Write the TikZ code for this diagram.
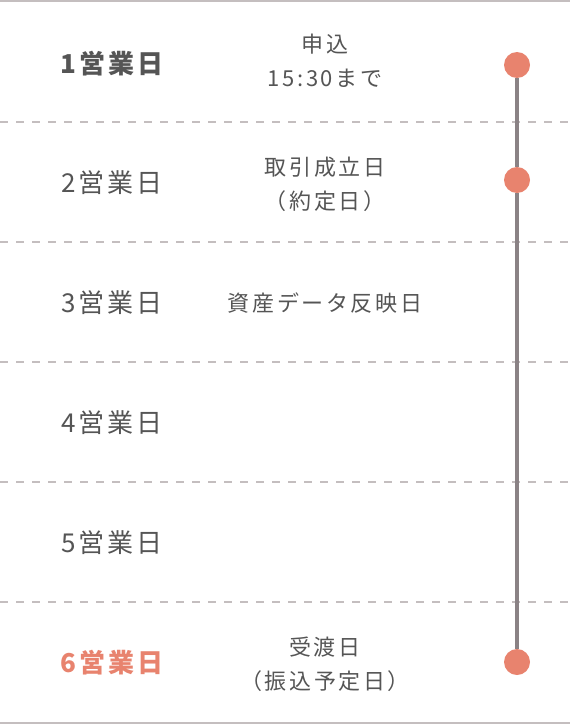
\documentclass[tikz,border=0pt]{standalone}
\usepackage{fontspec}
\newfontfamily\jpfont[LetterSpace=12]{Noto Sans CJK JP}
\definecolor{salmon}{HTML}{E8836E}
\definecolor{railgray}{HTML}{8A8285}
\definecolor{rulegray}{HTML}{C4BEBF}
\definecolor{textgray}{HTML}{555555}
\begin{document}
\begin{tikzpicture}[x=0.75pt, y=-0.75pt,
    daylabel/.style={text=textgray, font=\jpfont\fontsize{19.5}{22}\selectfont},
    event/.style={text=textgray, align=center, font=\jpfont\fontsize{16.5}{25.5}\selectfont},
    dot/.style={circle, fill=salmon, minimum size=19.5pt, inner sep=0pt},
    rail/.style={railgray, line width=3pt}]
    \useasboundingbox (0,0) rectangle (570,724);

    % Row borders
    \draw[rulegray, line width=1.5pt] (0,1) -- (570,1);
    \foreach \y in {122,242,362,482,602}
      \draw[rulegray, line width=1.2pt, dash pattern=on 6pt off 6pt] (0,\y) -- (570,\y);
    \draw[rulegray, line width=1.5pt] (0,722.5) -- (570,722.5);

    % Business days
    \node[daylabel, font=\jpfont\bfseries\fontsize{19.5}{22}\selectfont] (day1) at (112,64) {1営業日};
    \node[daylabel] (day2) at (112,183) {2営業日};
    \node[daylabel] (day3) at (112,303) {3営業日};
    \node[daylabel] (day4) at (112,423) {4営業日};
    \node[daylabel] (day5) at (112,543) {5営業日};
    \node[daylabel, text=salmon, font=\jpfont\bfseries\fontsize{19.5}{22}\selectfont] (day6) at (112,663) {6営業日};

    % Events
    \node[event] (apply) at (325,61) {申込\\15:30まで};
    \node[event] (trade) at (325,184) {取引成立日\\（約定日）};
    \node[event] (asset) at (325,303) {資産データ反映日};
    \node[event] (settle) at (325,664) {受渡日\\（振込予定日）};

    % Timeline
    \node[dot] (d1) at (517,65) {};
    \node[dot] (d2) at (517,180) {};
    \node[dot] (d6) at (517,662) {};
    \draw[rail] (d1) -- (d2) -- (d6);
  \end{tikzpicture}
\end{document}
